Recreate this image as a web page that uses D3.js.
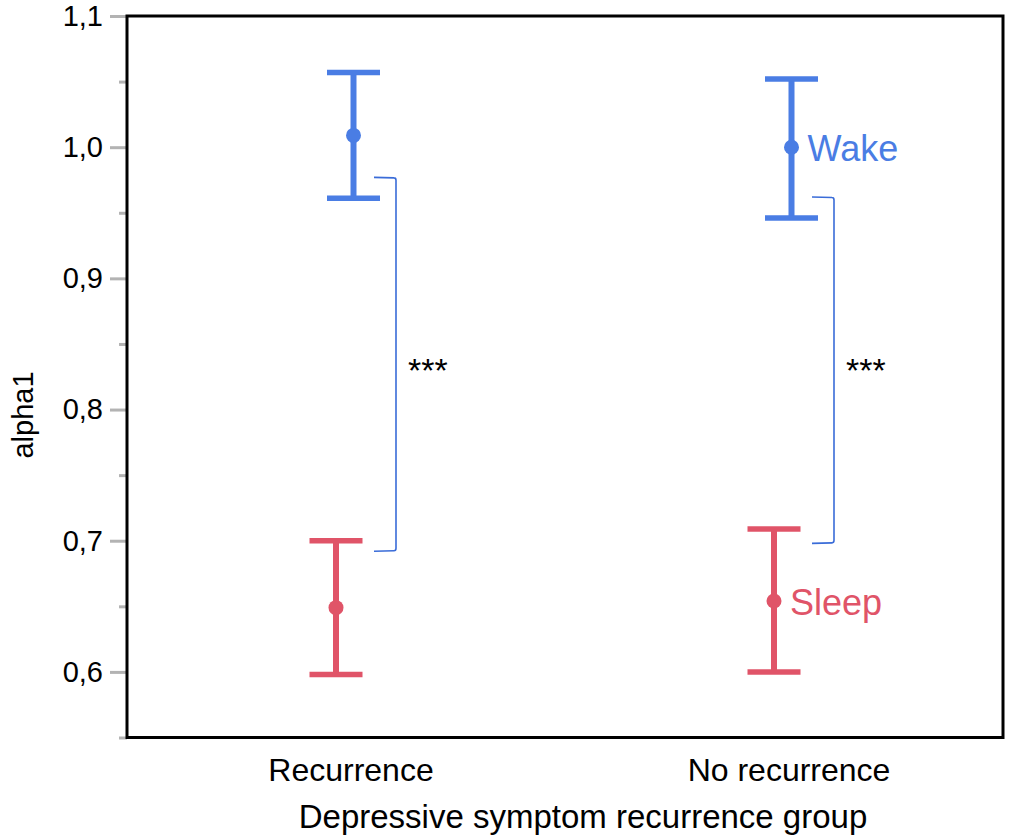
<!DOCTYPE html>
<html>
<head>
<meta charset="utf-8">
<script src="https://cdn.jsdelivr.net/npm/d3@7"></script>
<style>
  html, body { margin: 0; padding: 0; background: #fff; }
  svg { display: block; font-family: "Liberation Sans", Arial, Helvetica, sans-serif; }
</style>
</head>
<body>
<svg id="chart" width="1009" height="840"></svg>
<script>
// ---- data ----
const groups = ["Recurrence", "No recurrence"];
const conditions = ["Wake", "Sleep"];
const wakeMean = [1.009, 1.000];
const wakeLow  = [0.961, 0.946];
const wakeHigh = [1.057, 1.052];
const sleepMean = [0.649, 0.654];
const sleepLow  = [0.598, 0.600];
const sleepHigh = [0.700, 0.709];
const bracketTop    = [0.977, 0.962];
const bracketBottom = [0.692, 0.698];
const sigLabels = ["***", "***"];
const yMajorTicks = [0.6, 0.7, 0.8, 0.9, 1.0, 1.1];
const yMinorTicks = [0.55, 0.65, 0.75, 0.85, 0.95, 1.05];
const xTitle = "Depressive symptom recurrence group";
const yTitle = "alpha1";

// ---- layout ----
const W = 1009, H = 840;
const margin = {top: 16, right: 6, bottom: 102.5, left: 127};
const colors = {Wake: "#4a7de4", Sleep: "#e05468"};
const bracketColor = "#3a6cd8";

const svg = d3.select("#chart");
const x = d3.scaleBand().domain(groups).range([margin.left, W - margin.right]);
const y = d3.scaleLinear().domain([0.55, 1.1]).range([H - margin.bottom, margin.top]);
const center = g => x(g) + x.bandwidth() / 2;
const dodge = {Wake: 7.5, Sleep: -10};

// y ticks (gray, outside)
const yAxisMajor = d3.axisLeft(y).tickValues(yMajorTicks).tickSize(17).tickPadding(7)
  .tickFormat(d => d3.format(".1f")(d).replace(".", ","));
const gy = svg.append("g").attr("transform", `translate(${margin.left},0)`).call(yAxisMajor);
gy.select(".domain").remove();
gy.selectAll(".tick line").attr("stroke", "#b3b3b3").attr("stroke-width", 3);
gy.selectAll(".tick text").attr("font-size", 29).attr("fill", "#000")
  .attr("font-family", "'Liberation Sans', Arial, sans-serif");

const yAxisMinor = d3.axisLeft(y).tickValues(yMinorTicks).tickSize(8).tickFormat("");
const gym = svg.append("g").attr("transform", `translate(${margin.left},0)`).call(yAxisMinor);
gym.select(".domain").remove();
gym.selectAll(".tick line").attr("stroke", "#b3b3b3").attr("stroke-width", 3);

// x axis labels
const xAxis = d3.axisBottom(x).tickSize(0).tickPadding(21);
const gx = svg.append("g").attr("transform", `translate(0,${H - margin.bottom})`).call(xAxis);
gx.select(".domain").remove();
gx.selectAll(".tick text").attr("font-size", 32).attr("fill", "#000")
  .attr("font-family", "'Liberation Sans', Arial, sans-serif")
  .attr("dx", 5);

// frame
svg.append("rect")
  .attr("x", margin.left).attr("y", margin.top)
  .attr("width", W - margin.left - margin.right)
  .attr("height", H - margin.top - margin.bottom)
  .attr("fill", "none").attr("stroke", "#000").attr("stroke-width", 3);

// axis titles
svg.append("text").attr("x", 583).attr("y", 828).attr("text-anchor", "middle")
  .attr("font-size", 33).attr("fill", "#000").text(xTitle);
svg.append("text").attr("transform", `translate(33,415) rotate(-90)`)
  .attr("text-anchor", "middle").attr("font-size", 29).attr("fill", "#000").text(yTitle);

// error bars
const series = [
  {cond: "Wake", mean: wakeMean, low: wakeLow, high: wakeHigh},
  {cond: "Sleep", mean: sleepMean, low: sleepLow, high: sleepHigh}
];
const capHalf = 26.5;
series.forEach(s => {
  const g = svg.append("g");
  groups.forEach((grp, i) => {
    const cx = center(grp) + dodge[s.cond];
    g.append("line").attr("x1", cx).attr("x2", cx)
      .attr("y1", y(s.low[i])).attr("y2", y(s.high[i]))
      .attr("stroke", colors[s.cond]).attr("stroke-width", 6);
    [s.low[i], s.high[i]].forEach(v => {
      g.append("line").attr("x1", cx - capHalf).attr("x2", cx + capHalf)
        .attr("y1", y(v)).attr("y2", y(v))
        .attr("stroke", colors[s.cond]).attr("stroke-width", 5.5);
    });
    g.append("circle").attr("cx", cx).attr("cy", y(s.mean[i])).attr("r", 7.5)
      .attr("fill", colors[s.cond]);
  });
});

// series labels next to "No recurrence"
series.forEach(s => {
  const i = 1;
  const cx = center(groups[i]) + dodge[s.cond];
  svg.append("text").attr("x", cx + 16).attr("y", y(s.mean[i]) + 13.5)
    .attr("font-size", 36).attr("fill", colors[s.cond]).text(s.cond);
});

// significance brackets
groups.forEach((grp, i) => {
  const c = center(grp);
  const x0 = c + 28, x1 = c + 50;
  const path = d3.path();
  path.moveTo(x0, y(bracketTop[i]));
  path.lineTo(x1 - 2, y(bracketTop[i]) + 0.5);
  path.quadraticCurveTo(x1, y(bracketTop[i]) + 0.5, x1, y(bracketTop[i]) + 3);
  path.lineTo(x1, y(bracketBottom[i]) - 3);
  path.quadraticCurveTo(x1, y(bracketBottom[i]) - 0.5, x1 - 2, y(bracketBottom[i]) - 0.5);
  path.lineTo(x0, y(bracketBottom[i]));
  svg.append("path").attr("d", path.toString()).attr("fill", "none")
    .attr("stroke", bracketColor).attr("stroke-width", 1.6);
  svg.append("text").attr("x", c + 62).attr("y", y(0.833) + 16)
    .attr("font-size", 34).attr("fill", "#000").text(sigLabels[i]);
});
</script>
</body>
</html>
